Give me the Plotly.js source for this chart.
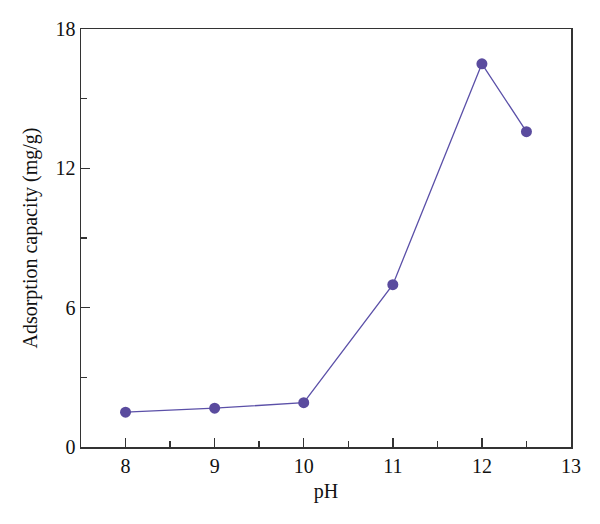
<!DOCTYPE html>
<html><head><meta charset="utf-8">
<script src="https://cdn.plot.ly/plotly-3.0.1.min.js"></script>
<style>html,body{margin:0;padding:0;background:#fff}</style>
</head><body>
<div id="chart" style="width:600px;height:524px"></div>
<script>
const pH = [8, 9, 10, 11, 12, 12.5];
const capacity = [1.50, 1.67, 1.91, 6.99, 16.5, 13.58];
const xTickVals = [8, 9, 10, 11, 12, 13];
const yTickVals = [0, 6, 12, 18];

const font = {family: '"Liberation Serif", "DejaVu Serif", serif', size: 20, color: '#111'};
const axisCommon = {
  showline: true, linecolor: '#333', linewidth: 1.5, mirror: true,
  showgrid: false, zeroline: false,
  ticks: 'inside', ticklen: 9, tickwidth: 1.5, tickcolor: '#333',
  tickfont: font
};
Plotly.newPlot('chart', [{
  x: pH, y: capacity, type: 'scatter', mode: 'lines+markers',
  line: {color: '#5b50a8', width: 1.3},
  marker: {color: '#5a4b9e', size: 11},
  cliponaxis: false
}], {
  width: 600, height: 524,
  margin: {l: 81, r: 29, t: 29, b: 77},
  paper_bgcolor: '#fff', plot_bgcolor: '#fff',
  showlegend: false,
  font: font,
  xaxis: Object.assign({}, axisCommon, {
    range: [7.5, 13], tickvals: xTickVals, ticktext: xTickVals.map(String),
    minor: {dtick: 0.5, tick0: 7.5, ticks: 'inside', ticklen: 6, tickwidth: 1.5, tickcolor: '#333'},
    title: {text: 'pH', font: font, standoff: 8}
  }),
  yaxis: Object.assign({}, axisCommon, {
    range: [0, 18], tickvals: yTickVals, ticktext: yTickVals.map(String),
    minor: {dtick: 3, tick0: 0, ticks: 'inside', ticklen: 6, tickwidth: 1.5, tickcolor: '#333'},
    title: {text: 'Adsorption capacity (mg/g)', font: font, standoff: 12}
  })
}, {staticPlot: true});
</script>
</body></html>
